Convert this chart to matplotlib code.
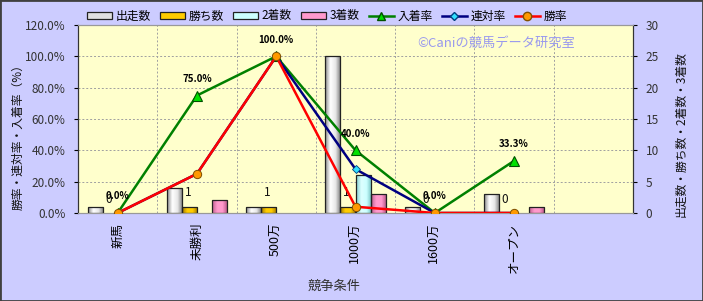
import numpy as np
import matplotlib
matplotlib.use("Agg")
import matplotlib.pyplot as plt
from matplotlib.patches import Rectangle, Patch
from matplotlib.lines import Line2D
from matplotlib.colors import LinearSegmentedColormap

plt.rcParams['font.family'] = ['Noto Sans CJK JP', 'DejaVu Sans']

# ---------------- data ----------------
categories = ['新馬', '未勝利', '500万', '1000万', '1600万', 'オープン']
starts = [1, 4, 1, 25, 1, 3]          # 出走数
wins = [0, 1, 1, 1, 0, 0]             # 勝ち数
seconds = [0, 0, 0, 6, 0, 0]          # 2着数
thirds = [0, 2, 0, 3, 0, 1]           # 3着数
place_rate = [0.0, 75.0, 100.0, 40.0, 0.0, 33.3]   # 入着率
rentai_rate = [0.0, 25.0, 100.0, 28.0, 0.0, 0.0]   # 連対率
win_rate = [0.0, 25.0, 100.0, 4.0, 0.0, 0.0]       # 勝率

bar_names = ['出走数', '勝ち数', '2着数', '3着数']
line_names = ['入着率', '連対率', '勝率']
n_slots = len(categories) + 1   # one empty slot at the right

W, H = 703, 301
fig = plt.figure(figsize=(W / 100, H / 100), dpi=100, facecolor='#CCCCFF')
fig.add_artist(Rectangle((0, 0), 1, 1, transform=fig.transFigure, fill=False,
                         edgecolor='#404040', lw=2))

ax = fig.add_axes([78 / W, 88 / H, 555 / W, 188 / H])
ax.set_facecolor('#FFFFCC')
ax2 = ax.twinx()

x = np.arange(len(categories))
bw = 0.19
offs = np.array([-1.5, -0.5, 0.5, 1.5]) * bw
bar_series = [starts, wins, seconds, thirds]
grads = [
    ['#8A8A8A', '#FFFFFF', '#E8E8E8', '#7A7A7A'],
    ['#A07800', '#FFCC00', '#FFCC00', '#A07800'],
    ['#7FCFCF', '#DDFFFF', '#CCFFFF', '#6FBFBF'],
    ['#C06090', '#FF99CC', '#FF99CC', '#B05080'],
]
mids = ['#E0E0E0', '#FFCC00', '#CCFFFF', '#FF99CC']
grad_img = np.linspace(0, 1, 64).reshape(1, -1)

for vals, off, g in zip(bar_series, offs, grads):
    cmap = LinearSegmentedColormap.from_list('g', g)
    bars = ax.bar(x + off, vals, width=bw, facecolor='none', edgecolor='#222222',
                  lw=0.9, zorder=3)
    for r in bars:
        h = r.get_height()
        if h <= 0:
            r.set_visible(False)
            continue
        im = ax.imshow(grad_img, extent=(r.get_x(), r.get_x() + r.get_width(), 0, h),
                       aspect='auto', cmap=cmap, zorder=2.9, interpolation='bilinear')
        im.set_clip_path(r)

# win count labels
for xi, v in zip(x + offs[1], wins):
    ax.annotate(str(v), (xi, v), xytext=(-1, 10), textcoords='offset points',
                ha='center', va='center', fontsize=8.5, color='#111111', zorder=5)

ax.set_xlim(-0.5, n_slots - 0.5)
ax.set_ylim(0, 30)
ax.set_yticks(np.arange(0, 31, 5))
ax.yaxis.tick_right()
ax.set_xticks(x)
ax.set_xticklabels(categories, rotation=90, fontsize=9)
ax.set_xticks(np.arange(0.5, n_slots - 0.5, 1), minor=True)
ax.tick_params(axis='x', which='both', length=0, pad=7)
ax.tick_params(axis='y', length=3, labelsize=8.5, labelcolor='#333333', pad=6)
ax.grid(axis='y', which='major', color='#A0A0A0', ls=(0, (2, 2)), lw=0.7)
ax.grid(axis='x', which='minor', color='#A0A0A0', ls=(0, (2, 2)), lw=0.7)
ax.set_axisbelow(True)

# lines on percent axis
ax2.yaxis.tick_left()
ax2.set_ylim(0, 120)
ax2.set_yticks(np.arange(0, 121, 20))
ax2.set_yticklabels([f'{v:.1f}%' for v in np.arange(0, 121, 20)])
ax2.tick_params(axis='y', length=3, labelsize=8.5, labelcolor='#333333', pad=6)

ax2.plot(x, place_rate, color='#008000', lw=1.8, marker='^', ms=7,
         mfc='#00E000', mec='#005000', mew=0.8, zorder=4)
ax2.plot(x, rentai_rate, color='#000080', lw=1.8, marker='D', ms=4.5,
         mfc='#33E0FF', mec='#004080', mew=0.6, zorder=5)
ax2.plot(x, win_rate, color='#FF0000', lw=1.8, marker='o', ms=6,
         mfc='#FF9900', mec='#805000', mew=0.7, zorder=6)

for xi, v in zip(x, place_rate):
    ax2.annotate(f'{v:.1f}%', (xi, v), xytext=(0, 12), textcoords='offset points',
                 ha='center', va='center', fontsize=7, fontweight='bold', zorder=7)

for sp in ['left', 'right']:
    ax.spines[sp].set_color('#333333')
    ax2.spines[sp].set_color('#333333')
for sp in ['top', 'bottom']:
    ax.spines[sp].set_color('#999999')
    ax2.spines[sp].set_color('#999999')

# watermark
ax.text(0.612, 0.905, '©Caniの競馬データ研究室', transform=ax.transAxes,
        fontsize=9.5, color='#9999EE', ha='left', va='center', zorder=1)

# axis labels
fig.text(18 / W, 1 - 134 / H, '勝率・連対率・入着率（%）', rotation=90,
         ha='center', va='center', fontsize=8.5, color='#111111')
fig.text(681 / W, 1 - 134 / H, '出走数・勝ち数・2着数・3着数', rotation=90,
         ha='center', va='center', fontsize=8.5, color='#111111')
fig.text(334 / W, 1 - 286 / H, '競争条件', ha='center', va='center',
         fontsize=9.5, color='#333333')

handles = [Patch(facecolor=m, edgecolor='#222222', lw=0.9) for m in mids]
handles += [
    Line2D([], [], color='#008000', lw=1.8, marker='^', ms=6, mfc='#00E000', mec='#005000'),
    Line2D([], [], color='#000080', lw=1.8, marker='D', ms=4, mfc='#33E0FF', mec='#004080'),
    Line2D([], [], color='#FF0000', lw=1.8, marker='o', ms=6, mfc='#FF9900', mec='#805000'),
]
fig.legend(handles, bar_names + line_names, loc='center', ncol=7, frameon=False,
           bbox_to_anchor=(327 / W, 1 - 16 / H), fontsize=8.5,
           handlelength=2.1, handleheight=0.5, handletextpad=0.3, columnspacing=0.8)

fig.savefig('out.png', dpi=100, facecolor=fig.get_facecolor())
